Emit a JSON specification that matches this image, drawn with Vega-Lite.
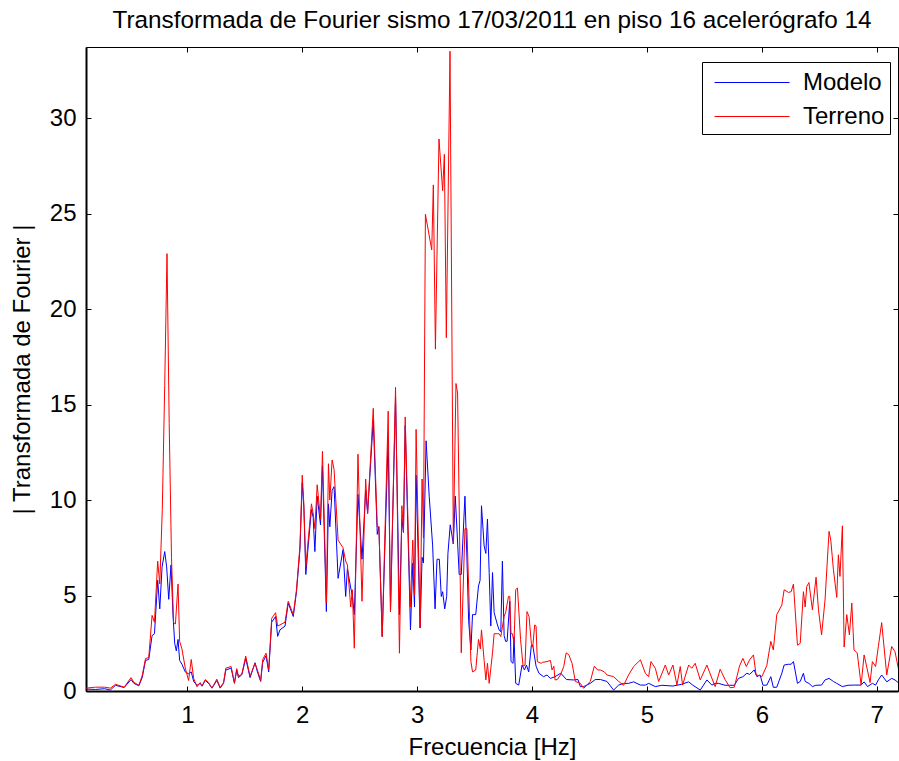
{
"$schema": "https://vega.github.io/schema/vega-lite/v6.json",
"width": 812, "height": 644,
"autosize": {"type": "none"},
"padding": {"left": 86, "top": 47, "right": 1, "bottom": 70},
"background": "white",
"config": {"font": "Liberation Sans", "view": {"stroke": "black", "strokeWidth": 1}},
"title": {"text": "Transformada de Fourier sismo 17/03/2011 en piso 16 acelerógrafo 14", "fontSize": 24.3, "fontWeight": "normal", "color": "black", "anchor": "middle", "offset": 13},
"data": {"values": [
{"s":"Modelo","f":0.12,"v":0.1},{"s":"Modelo","f":0.2,"v":0.08},{"s":"Modelo","f":0.28,"v":0.12},{"s":"Modelo","f":0.33,"v":0.05},{"s":"Modelo","f":0.375,"v":0.3},{"s":"Modelo","f":0.45,"v":0.18},{"s":"Modelo","f":0.51,"v":0.6},{"s":"Modelo","f":0.535,"v":0.4},{"s":"Modelo","f":0.578,"v":0.27},{"s":"Modelo","f":0.607,"v":0.7},{"s":"Modelo","f":0.636,"v":1.6},{"s":"Modelo","f":0.664,"v":1.65},{"s":"Modelo","f":0.693,"v":2.9},{"s":"Modelo","f":0.714,"v":3.0},{"s":"Modelo","f":0.742,"v":5.8},{"s":"Modelo","f":0.76,"v":4.3},{"s":"Modelo","f":0.78,"v":6.5},{"s":"Modelo","f":0.803,"v":7.3},{"s":"Modelo","f":0.82,"v":6.5},{"s":"Modelo","f":0.838,"v":4.8},{"s":"Modelo","f":0.858,"v":6.6},{"s":"Modelo","f":0.875,"v":4.0},{"s":"Modelo","f":0.89,"v":2.5},{"s":"Modelo","f":0.904,"v":2.1},{"s":"Modelo","f":0.919,"v":2.7},{"s":"Modelo","f":0.933,"v":1.6},{"s":"Modelo","f":0.953,"v":1.4},{"s":"Modelo","f":0.982,"v":1.0},{"s":"Modelo","f":1.011,"v":0.9},{"s":"Modelo","f":1.034,"v":1.0},{"s":"Modelo","f":1.055,"v":0.5},{"s":"Modelo","f":1.084,"v":0.3},{"s":"Modelo","f":1.112,"v":0.4},{"s":"Modelo","f":1.127,"v":0.25},{"s":"Modelo","f":1.156,"v":0.55},{"s":"Modelo","f":1.185,"v":0.4},{"s":"Modelo","f":1.214,"v":0.15},{"s":"Modelo","f":1.257,"v":0.55},{"s":"Modelo","f":1.286,"v":0.15},{"s":"Modelo","f":1.315,"v":0.4},{"s":"Modelo","f":1.335,"v":1.1},{"s":"Modelo","f":1.381,"v":1.2},{"s":"Modelo","f":1.41,"v":0.4},{"s":"Modelo","f":1.43,"v":1.1},{"s":"Modelo","f":1.445,"v":0.7},{"s":"Modelo","f":1.474,"v":0.85},{"s":"Modelo","f":1.508,"v":1.7},{"s":"Modelo","f":1.546,"v":0.7},{"s":"Modelo","f":1.589,"v":1.48},{"s":"Modelo","f":1.61,"v":1.0},{"s":"Modelo","f":1.638,"v":0.5},{"s":"Modelo","f":1.656,"v":1.5},{"s":"Modelo","f":1.685,"v":1.85},{"s":"Modelo","f":1.708,"v":1.0},{"s":"Modelo","f":1.734,"v":3.6},{"s":"Modelo","f":1.768,"v":3.9},{"s":"Modelo","f":1.786,"v":2.86},{"s":"Modelo","f":1.806,"v":3.2},{"s":"Modelo","f":1.85,"v":3.4},{"s":"Modelo","f":1.878,"v":4.6},{"s":"Modelo","f":1.922,"v":3.9},{"s":"Modelo","f":1.95,"v":5.2},{"s":"Modelo","f":1.98,"v":7.4},{"s":"Modelo","f":2.0,"v":10.9},{"s":"Modelo","f":2.014,"v":9.6},{"s":"Modelo","f":2.031,"v":6.1},{"s":"Modelo","f":2.052,"v":7.6},{"s":"Modelo","f":2.08,"v":9.5},{"s":"Modelo","f":2.095,"v":9.1},{"s":"Modelo","f":2.11,"v":7.3},{"s":"Modelo","f":2.13,"v":10.2},{"s":"Modelo","f":2.159,"v":8.7},{"s":"Modelo","f":2.176,"v":11.8},{"s":"Modelo","f":2.21,"v":4.16},{"s":"Modelo","f":2.228,"v":9.8},{"s":"Modelo","f":2.24,"v":8.6},{"s":"Modelo","f":2.26,"v":10.5},{"s":"Modelo","f":2.277,"v":10.7},{"s":"Modelo","f":2.312,"v":5.9},{"s":"Modelo","f":2.355,"v":7.4},{"s":"Modelo","f":2.378,"v":4.95},{"s":"Modelo","f":2.393,"v":6.4},{"s":"Modelo","f":2.422,"v":5.4},{"s":"Modelo","f":2.436,"v":5.0},{"s":"Modelo","f":2.453,"v":4.0},{"s":"Modelo","f":2.485,"v":10.3},{"s":"Modelo","f":2.52,"v":6.9},{"s":"Modelo","f":2.552,"v":10.5},{"s":"Modelo","f":2.569,"v":9.3},{"s":"Modelo","f":2.618,"v":14.2},{"s":"Modelo","f":2.653,"v":8.2},{"s":"Modelo","f":2.667,"v":8.6},{"s":"Modelo","f":2.696,"v":2.85},{"s":"Modelo","f":2.748,"v":13.3},{"s":"Modelo","f":2.768,"v":4.16},{"s":"Modelo","f":2.812,"v":15.4},{"s":"Modelo","f":2.846,"v":4.0},{"s":"Modelo","f":2.867,"v":9.0},{"s":"Modelo","f":2.881,"v":8.3},{"s":"Modelo","f":2.896,"v":13.9},{"s":"Modelo","f":2.942,"v":3.2},{"s":"Modelo","f":2.962,"v":6.7},{"s":"Modelo","f":2.977,"v":4.4},{"s":"Modelo","f":2.991,"v":11.3},{"s":"Modelo","f":3.026,"v":3.3},{"s":"Modelo","f":3.043,"v":7.0},{"s":"Modelo","f":3.055,"v":6.7},{"s":"Modelo","f":3.078,"v":13.1},{"s":"Modelo","f":3.105,"v":10.2},{"s":"Modelo","f":3.135,"v":7.6},{"s":"Modelo","f":3.156,"v":4.3},{"s":"Modelo","f":3.173,"v":6.9},{"s":"Modelo","f":3.193,"v":6.9},{"s":"Modelo","f":3.21,"v":4.95},{"s":"Modelo","f":3.222,"v":5.2},{"s":"Modelo","f":3.24,"v":4.3},{"s":"Modelo","f":3.257,"v":4.95},{"s":"Modelo","f":3.268,"v":7.2},{"s":"Modelo","f":3.288,"v":8.7},{"s":"Modelo","f":3.315,"v":7.7},{"s":"Modelo","f":3.332,"v":10.2},{"s":"Modelo","f":3.366,"v":6.1},{"s":"Modelo","f":3.384,"v":6.1},{"s":"Modelo","f":3.416,"v":10.2},{"s":"Modelo","f":3.433,"v":7.0},{"s":"Modelo","f":3.448,"v":3.7},{"s":"Modelo","f":3.468,"v":2.15},{"s":"Modelo","f":3.482,"v":4.0},{"s":"Modelo","f":3.51,"v":4.0},{"s":"Modelo","f":3.534,"v":5.5},{"s":"Modelo","f":3.548,"v":5.8},{"s":"Modelo","f":3.56,"v":9.7},{"s":"Modelo","f":3.583,"v":7.6},{"s":"Modelo","f":3.598,"v":7.2},{"s":"Modelo","f":3.612,"v":9.0},{"s":"Modelo","f":3.627,"v":6.2},{"s":"Modelo","f":3.641,"v":3.4},{"s":"Modelo","f":3.656,"v":6.2},{"s":"Modelo","f":3.67,"v":4.1},{"s":"Modelo","f":3.699,"v":3.46},{"s":"Modelo","f":3.713,"v":3.2},{"s":"Modelo","f":3.728,"v":3.1},{"s":"Modelo","f":3.742,"v":6.8},{"s":"Modelo","f":3.757,"v":2.9},{"s":"Modelo","f":3.77,"v":2.6},{"s":"Modelo","f":3.783,"v":2.6},{"s":"Modelo","f":3.806,"v":4.7},{"s":"Modelo","f":3.817,"v":1.54},{"s":"Modelo","f":3.835,"v":1.45},{"s":"Modelo","f":3.843,"v":2.85},{"s":"Modelo","f":3.858,"v":0.4},{"s":"Modelo","f":3.884,"v":0.31},{"s":"Modelo","f":3.913,"v":1.36},{"s":"Modelo","f":3.934,"v":1.1},{"s":"Modelo","f":3.951,"v":1.36},{"s":"Modelo","f":3.971,"v":1.0},{"s":"Modelo","f":3.994,"v":2.4},{"s":"Modelo","f":4.006,"v":2.4},{"s":"Modelo","f":4.035,"v":1.3},{"s":"Modelo","f":4.06,"v":0.93},{"s":"Modelo","f":4.1,"v":0.75},{"s":"Modelo","f":4.13,"v":0.84},{"s":"Modelo","f":4.16,"v":0.66},{"s":"Modelo","f":4.2,"v":0.75},{"s":"Modelo","f":4.25,"v":0.93},{"s":"Modelo","f":4.3,"v":0.6},{"s":"Modelo","f":4.36,"v":0.58},{"s":"Modelo","f":4.4,"v":0.6},{"s":"Modelo","f":4.42,"v":0.23},{"s":"Modelo","f":4.45,"v":0.23},{"s":"Modelo","f":4.507,"v":0.4},{"s":"Modelo","f":4.55,"v":0.6},{"s":"Modelo","f":4.595,"v":0.6},{"s":"Modelo","f":4.652,"v":0.5},{"s":"Modelo","f":4.71,"v":0.05},{"s":"Modelo","f":4.754,"v":0.31},{"s":"Modelo","f":4.797,"v":0.4},{"s":"Modelo","f":4.84,"v":0.4},{"s":"Modelo","f":4.884,"v":0.48},{"s":"Modelo","f":4.943,"v":0.31},{"s":"Modelo","f":4.986,"v":0.31},{"s":"Modelo","f":5.015,"v":0.4},{"s":"Modelo","f":5.073,"v":0.23},{"s":"Modelo","f":5.13,"v":0.3},{"s":"Modelo","f":5.226,"v":0.26},{"s":"Modelo","f":5.3,"v":0.35},{"s":"Modelo","f":5.363,"v":0.48},{"s":"Modelo","f":5.4,"v":0.3},{"s":"Modelo","f":5.464,"v":0.05},{"s":"Modelo","f":5.522,"v":0.58},{"s":"Modelo","f":5.565,"v":0.31},{"s":"Modelo","f":5.594,"v":0.4},{"s":"Modelo","f":5.623,"v":0.4},{"s":"Modelo","f":5.68,"v":0.3},{"s":"Modelo","f":5.719,"v":0.3},{"s":"Modelo","f":5.76,"v":0.3},{"s":"Modelo","f":5.797,"v":0.66},{"s":"Modelo","f":5.835,"v":0.75},{"s":"Modelo","f":5.87,"v":0.93},{"s":"Modelo","f":5.893,"v":0.87},{"s":"Modelo","f":5.934,"v":1.1},{"s":"Modelo","f":5.957,"v":0.75},{"s":"Modelo","f":5.985,"v":0.84},{"s":"Modelo","f":6.01,"v":0.3},{"s":"Modelo","f":6.044,"v":0.31},{"s":"Modelo","f":6.078,"v":0.75},{"s":"Modelo","f":6.1,"v":0.19},{"s":"Modelo","f":6.13,"v":0.2},{"s":"Modelo","f":6.174,"v":0.93},{"s":"Modelo","f":6.194,"v":1.36},{"s":"Modelo","f":6.232,"v":1.4},{"s":"Modelo","f":6.255,"v":1.4},{"s":"Modelo","f":6.275,"v":1.54},{"s":"Modelo","f":6.31,"v":0.4},{"s":"Modelo","f":6.334,"v":0.5},{"s":"Modelo","f":6.362,"v":0.93},{"s":"Modelo","f":6.377,"v":0.5},{"s":"Modelo","f":6.41,"v":0.4},{"s":"Modelo","f":6.44,"v":0.23},{"s":"Modelo","f":6.47,"v":0.3},{"s":"Modelo","f":6.52,"v":0.31},{"s":"Modelo","f":6.55,"v":0.58},{"s":"Modelo","f":6.585,"v":0.66},{"s":"Modelo","f":6.623,"v":0.5},{"s":"Modelo","f":6.652,"v":0.4},{"s":"Modelo","f":6.7,"v":0.23},{"s":"Modelo","f":6.75,"v":0.3},{"s":"Modelo","f":6.8,"v":0.31},{"s":"Modelo","f":6.864,"v":0.31},{"s":"Modelo","f":6.89,"v":0.48},{"s":"Modelo","f":6.92,"v":0.23},{"s":"Modelo","f":6.962,"v":0.4},{"s":"Modelo","f":6.99,"v":0.31},{"s":"Modelo","f":7.014,"v":0.58},{"s":"Modelo","f":7.043,"v":0.84},{"s":"Modelo","f":7.087,"v":0.48},{"s":"Modelo","f":7.13,"v":0.66},{"s":"Modelo","f":7.159,"v":0.58},{"s":"Modelo","f":7.194,"v":0.4},
{"s":"Terreno","f":0.12,"v":0.15},{"s":"Terreno","f":0.2,"v":0.2},{"s":"Terreno","f":0.28,"v":0.2},{"s":"Terreno","f":0.33,"v":0.15},{"s":"Terreno","f":0.375,"v":0.35},{"s":"Terreno","f":0.45,"v":0.2},{"s":"Terreno","f":0.51,"v":0.7},{"s":"Terreno","f":0.535,"v":0.45},{"s":"Terreno","f":0.578,"v":0.3},{"s":"Terreno","f":0.607,"v":0.8},{"s":"Terreno","f":0.636,"v":1.7},{"s":"Terreno","f":0.664,"v":1.75},{"s":"Terreno","f":0.693,"v":3.96},{"s":"Terreno","f":0.714,"v":3.6},{"s":"Terreno","f":0.742,"v":6.8},{"s":"Terreno","f":0.76,"v":5.6},{"s":"Terreno","f":0.782,"v":9.5},{"s":"Terreno","f":0.803,"v":16.0},{"s":"Terreno","f":0.823,"v":22.9},{"s":"Terreno","f":0.842,"v":14.0},{"s":"Terreno","f":0.862,"v":7.0},{"s":"Terreno","f":0.88,"v":3.6},{"s":"Terreno","f":0.896,"v":3.5},{"s":"Terreno","f":0.919,"v":5.6},{"s":"Terreno","f":0.933,"v":2.6},{"s":"Terreno","f":0.953,"v":2.2},{"s":"Terreno","f":0.982,"v":1.2},{"s":"Terreno","f":1.011,"v":0.55},{"s":"Terreno","f":1.034,"v":1.65},{"s":"Terreno","f":1.055,"v":0.66},{"s":"Terreno","f":1.084,"v":0.22},{"s":"Terreno","f":1.112,"v":0.44},{"s":"Terreno","f":1.127,"v":0.26},{"s":"Terreno","f":1.156,"v":0.6},{"s":"Terreno","f":1.185,"v":0.44},{"s":"Terreno","f":1.214,"v":0.15},{"s":"Terreno","f":1.257,"v":0.62},{"s":"Terreno","f":1.286,"v":0.18},{"s":"Terreno","f":1.315,"v":0.44},{"s":"Terreno","f":1.335,"v":1.2},{"s":"Terreno","f":1.381,"v":1.28},{"s":"Terreno","f":1.41,"v":0.44},{"s":"Terreno","f":1.43,"v":1.17},{"s":"Terreno","f":1.445,"v":0.77},{"s":"Terreno","f":1.474,"v":0.88},{"s":"Terreno","f":1.508,"v":1.83},{"s":"Terreno","f":1.546,"v":0.77},{"s":"Terreno","f":1.589,"v":1.45},{"s":"Terreno","f":1.61,"v":1.1},{"s":"Terreno","f":1.638,"v":0.55},{"s":"Terreno","f":1.656,"v":1.65},{"s":"Terreno","f":1.685,"v":1.98},{"s":"Terreno","f":1.708,"v":1.1},{"s":"Terreno","f":1.734,"v":3.8},{"s":"Terreno","f":1.768,"v":4.1},{"s":"Terreno","f":1.786,"v":3.4},{"s":"Terreno","f":1.806,"v":3.46},{"s":"Terreno","f":1.85,"v":3.6},{"s":"Terreno","f":1.878,"v":4.7},{"s":"Terreno","f":1.922,"v":4.0},{"s":"Terreno","f":1.95,"v":5.3},{"s":"Terreno","f":1.98,"v":7.6},{"s":"Terreno","f":2.0,"v":11.3},{"s":"Terreno","f":2.014,"v":9.8},{"s":"Terreno","f":2.031,"v":6.5},{"s":"Terreno","f":2.052,"v":7.9},{"s":"Terreno","f":2.08,"v":9.8},{"s":"Terreno","f":2.095,"v":9.3},{"s":"Terreno","f":2.11,"v":8.5},{"s":"Terreno","f":2.13,"v":10.8},{"s":"Terreno","f":2.159,"v":9.0},{"s":"Terreno","f":2.176,"v":12.55},{"s":"Terreno","f":2.21,"v":4.6},{"s":"Terreno","f":2.228,"v":11.9},{"s":"Terreno","f":2.24,"v":10.0},{"s":"Terreno","f":2.26,"v":12.1},{"s":"Terreno","f":2.277,"v":11.6},{"s":"Terreno","f":2.312,"v":7.9},{"s":"Terreno","f":2.355,"v":7.5},{"s":"Terreno","f":2.378,"v":6.8},{"s":"Terreno","f":2.393,"v":6.6},{"s":"Terreno","f":2.422,"v":4.4},{"s":"Terreno","f":2.436,"v":5.3},{"s":"Terreno","f":2.453,"v":2.24},{"s":"Terreno","f":2.485,"v":12.4},{"s":"Terreno","f":2.52,"v":4.7},{"s":"Terreno","f":2.552,"v":11.1},{"s":"Terreno","f":2.569,"v":9.3},{"s":"Terreno","f":2.618,"v":14.8},{"s":"Terreno","f":2.653,"v":8.6},{"s":"Terreno","f":2.667,"v":8.6},{"s":"Terreno","f":2.696,"v":2.85},{"s":"Terreno","f":2.748,"v":14.65},{"s":"Terreno","f":2.768,"v":4.16},{"s":"Terreno","f":2.812,"v":15.9},{"s":"Terreno","f":2.846,"v":1.98},{"s":"Terreno","f":2.867,"v":9.7},{"s":"Terreno","f":2.881,"v":8.3},{"s":"Terreno","f":2.896,"v":14.35},{"s":"Terreno","f":2.94,"v":4.4},{"s":"Terreno","f":2.962,"v":7.9},{"s":"Terreno","f":2.977,"v":5.0},{"s":"Terreno","f":2.991,"v":13.7},{"s":"Terreno","f":3.026,"v":3.3},{"s":"Terreno","f":3.043,"v":11.1},{"s":"Terreno","f":3.055,"v":8.0},{"s":"Terreno","f":3.072,"v":24.96},{"s":"Terreno","f":3.127,"v":23.1},{"s":"Terreno","f":3.141,"v":26.5},{"s":"Terreno","f":3.159,"v":17.9},{"s":"Terreno","f":3.19,"v":28.9},{"s":"Terreno","f":3.222,"v":26.2},{"s":"Terreno","f":3.237,"v":28.1},{"s":"Terreno","f":3.254,"v":18.5},{"s":"Terreno","f":3.286,"v":33.5},{"s":"Terreno","f":3.315,"v":7.7},{"s":"Terreno","f":3.338,"v":16.1},{"s":"Terreno","f":3.352,"v":15.6},{"s":"Terreno","f":3.384,"v":2.0},{"s":"Terreno","f":3.416,"v":8.5},{"s":"Terreno","f":3.433,"v":8.5},{"s":"Terreno","f":3.468,"v":1.54},{"s":"Terreno","f":3.482,"v":1.0},{"s":"Terreno","f":3.51,"v":1.1},{"s":"Terreno","f":3.534,"v":2.7},{"s":"Terreno","f":3.55,"v":2.2},{"s":"Terreno","f":3.56,"v":3.2},{"s":"Terreno","f":3.583,"v":1.6},{"s":"Terreno","f":3.598,"v":0.58},{"s":"Terreno","f":3.612,"v":1.45},{"s":"Terreno","f":3.627,"v":0.4},{"s":"Terreno","f":3.656,"v":2.0},{"s":"Terreno","f":3.67,"v":3.0},{"s":"Terreno","f":3.699,"v":3.0},{"s":"Terreno","f":3.713,"v":3.0},{"s":"Terreno","f":3.728,"v":2.85},{"s":"Terreno","f":3.757,"v":3.9},{"s":"Terreno","f":3.77,"v":4.1},{"s":"Terreno","f":3.795,"v":4.95},{"s":"Terreno","f":3.806,"v":4.95},{"s":"Terreno","f":3.817,"v":3.0},{"s":"Terreno","f":3.829,"v":3.0},{"s":"Terreno","f":3.843,"v":2.5},{"s":"Terreno","f":3.858,"v":5.3},{"s":"Terreno","f":3.873,"v":5.4},{"s":"Terreno","f":3.9,"v":2.7},{"s":"Terreno","f":3.922,"v":1.3},{"s":"Terreno","f":3.939,"v":1.36},{"s":"Terreno","f":3.956,"v":4.16},{"s":"Terreno","f":3.974,"v":3.9},{"s":"Terreno","f":3.994,"v":2.5},{"s":"Terreno","f":4.006,"v":2.3},{"s":"Terreno","f":4.023,"v":3.46},{"s":"Terreno","f":4.035,"v":3.4},{"s":"Terreno","f":4.046,"v":1.54},{"s":"Terreno","f":4.079,"v":1.45},{"s":"Terreno","f":4.09,"v":1.5},{"s":"Terreno","f":4.13,"v":1.54},{"s":"Terreno","f":4.16,"v":1.6},{"s":"Terreno","f":4.174,"v":1.1},{"s":"Terreno","f":4.19,"v":1.3},{"s":"Terreno","f":4.2,"v":0.58},{"s":"Terreno","f":4.22,"v":0.6},{"s":"Terreno","f":4.247,"v":0.84},{"s":"Terreno","f":4.276,"v":1.28},{"s":"Terreno","f":4.297,"v":2.0},{"s":"Terreno","f":4.32,"v":1.9},{"s":"Terreno","f":4.348,"v":1.45},{"s":"Terreno","f":4.377,"v":0.5},{"s":"Terreno","f":4.42,"v":0.4},{"s":"Terreno","f":4.45,"v":0.14},{"s":"Terreno","f":4.507,"v":0.5},{"s":"Terreno","f":4.542,"v":1.3},{"s":"Terreno","f":4.571,"v":1.1},{"s":"Terreno","f":4.595,"v":1.1},{"s":"Terreno","f":4.63,"v":1.0},{"s":"Terreno","f":4.652,"v":0.84},{"s":"Terreno","f":4.71,"v":0.75},{"s":"Terreno","f":4.754,"v":0.5},{"s":"Terreno","f":4.797,"v":0.3},{"s":"Terreno","f":4.84,"v":0.84},{"s":"Terreno","f":4.884,"v":1.28},{"s":"Terreno","f":4.943,"v":1.63},{"s":"Terreno","f":4.986,"v":0.93},{"s":"Terreno","f":5.015,"v":0.75},{"s":"Terreno","f":5.035,"v":1.54},{"s":"Terreno","f":5.073,"v":1.19},{"s":"Terreno","f":5.102,"v":0.5},{"s":"Terreno","f":5.16,"v":1.36},{"s":"Terreno","f":5.189,"v":0.84},{"s":"Terreno","f":5.226,"v":1.36},{"s":"Terreno","f":5.261,"v":0.31},{"s":"Terreno","f":5.29,"v":1.28},{"s":"Terreno","f":5.31,"v":0.31},{"s":"Terreno","f":5.363,"v":1.36},{"s":"Terreno","f":5.39,"v":1.19},{"s":"Terreno","f":5.42,"v":1.45},{"s":"Terreno","f":5.464,"v":0.58},{"s":"Terreno","f":5.522,"v":1.36},{"s":"Terreno","f":5.55,"v":0.9},{"s":"Terreno","f":5.594,"v":0.23},{"s":"Terreno","f":5.637,"v":1.14},{"s":"Terreno","f":5.68,"v":0.6},{"s":"Terreno","f":5.724,"v":0.17},{"s":"Terreno","f":5.76,"v":0.2},{"s":"Terreno","f":5.806,"v":1.31},{"s":"Terreno","f":5.835,"v":1.71},{"s":"Terreno","f":5.865,"v":1.28},{"s":"Terreno","f":5.893,"v":1.63},{"s":"Terreno","f":5.927,"v":1.89},{"s":"Terreno","f":5.95,"v":0.84},{"s":"Terreno","f":5.985,"v":0.8},{"s":"Terreno","f":6.0,"v":0.75},{"s":"Terreno","f":6.043,"v":1.33},{"s":"Terreno","f":6.078,"v":2.6},{"s":"Terreno","f":6.1,"v":2.15},{"s":"Terreno","f":6.13,"v":4.0},{"s":"Terreno","f":6.174,"v":4.5},{"s":"Terreno","f":6.194,"v":5.3},{"s":"Terreno","f":6.232,"v":5.16},{"s":"Terreno","f":6.255,"v":5.2},{"s":"Terreno","f":6.275,"v":5.6},{"s":"Terreno","f":6.31,"v":2.4},{"s":"Terreno","f":6.334,"v":2.5},{"s":"Terreno","f":6.362,"v":5.2},{"s":"Terreno","f":6.377,"v":4.4},{"s":"Terreno","f":6.391,"v":5.47},{"s":"Terreno","f":6.41,"v":5.68},{"s":"Terreno","f":6.44,"v":4.25},{"s":"Terreno","f":6.472,"v":5.96},{"s":"Terreno","f":6.493,"v":4.25},{"s":"Terreno","f":6.52,"v":2.94},{"s":"Terreno","f":6.55,"v":4.77},{"s":"Terreno","f":6.585,"v":8.36},{"s":"Terreno","f":6.6,"v":7.9},{"s":"Terreno","f":6.623,"v":6.35},{"s":"Terreno","f":6.652,"v":4.9},{"s":"Terreno","f":6.666,"v":7.13},{"s":"Terreno","f":6.68,"v":6.0},{"s":"Terreno","f":6.701,"v":8.65},{"s":"Terreno","f":6.716,"v":2.3},{"s":"Terreno","f":6.739,"v":4.0},{"s":"Terreno","f":6.762,"v":2.94},{"s":"Terreno","f":6.783,"v":4.6},{"s":"Terreno","f":6.802,"v":2.15},{"s":"Terreno","f":6.83,"v":2.0},{"s":"Terreno","f":6.864,"v":0.31},{"s":"Terreno","f":6.89,"v":1.89},{"s":"Terreno","f":6.915,"v":1.2},{"s":"Terreno","f":6.942,"v":0.44},{"s":"Terreno","f":6.962,"v":1.54},{"s":"Terreno","f":6.99,"v":1.28},{"s":"Terreno","f":7.014,"v":2.33},{"s":"Terreno","f":7.043,"v":3.58},{"s":"Terreno","f":7.087,"v":0.84},{"s":"Terreno","f":7.13,"v":2.33},{"s":"Terreno","f":7.159,"v":2.06},{"s":"Terreno","f":7.194,"v":1.0}
]},
"layer": [
{
"mark": {"type": "line", "strokeWidth": 1, "clip": true},
"encoding": {
"x": {"field": "f", "type": "quantitative", "scale": {"domain": [0.118, 7.185], "nice": false, "zero": false},
 "axis": {"orient": "bottom", "values": [1,2,3,4,5,6,7], "title": "Frecuencia [Hz]", "grid": false, "tickSize": -5, "tickColor": "black", "domainColor": "black", "domainWidth": 2, "labelFontSize": 24, "labelColor": "black", "labelPadding": 17, "labelFlush": false, "titleFontSize": 24, "titleFontWeight": "normal", "titleColor": "black", "titlePadding": 8}},
"y": {"field": "v", "type": "quantitative", "scale": {"domain": [0, 33.72], "nice": false, "zero": true},
 "axis": {"orient": "left", "values": [0,5,10,15,20,25,30], "title": "| Transformada de Fourier |", "grid": false, "tickSize": -5, "tickColor": "black", "domainColor": "black", "domainWidth": 2, "labelFontSize": 24, "labelColor": "black", "labelPadding": 15, "titleFontSize": 24, "titleFontWeight": "normal", "titleColor": "black", "titlePadding": 15}},
"color": {"field": "s", "type": "nominal", "scale": {"domain": ["Modelo", "Terreno"], "range": ["#0000ff", "#ff0000"]},
 "legend": {"title": null, "orient": "none", "legendX": 616, "legendY": 15, "direction": "vertical", "symbolType": "M-0.53,0H4.47", "symbolSize": 900, "symbolStrokeWidth": 1, "symbolFillColor": "transparent", "labelFontSize": 24, "labelColor": "black", "labelOffset": 65, "strokeColor": "black", "fillColor": "white", "padding": 5, "rowPadding": 6}}
}
},
{
"mark": {"type": "line", "strokeOpacity": 0},
"encoding": {
"x": {"field": "f", "type": "quantitative", "scale": {"domain": [0.118, 7.185], "nice": false, "zero": false},
 "axis": {"orient": "top", "values": [1,2,3,4,5,6,7], "title": null, "labels": false, "domain": false, "grid": false, "tickSize": -5, "tickColor": "black"}},
"y": {"field": "v", "type": "quantitative", "scale": {"domain": [0, 33.72], "nice": false, "zero": true},
 "axis": {"orient": "right", "values": [0,5,10,15,20,25,30], "title": null, "labels": false, "domain": false, "grid": false, "tickSize": -5, "tickColor": "black"}}
}
}
],
"resolve": {"axis": {"x": "independent", "y": "independent"}}
}
